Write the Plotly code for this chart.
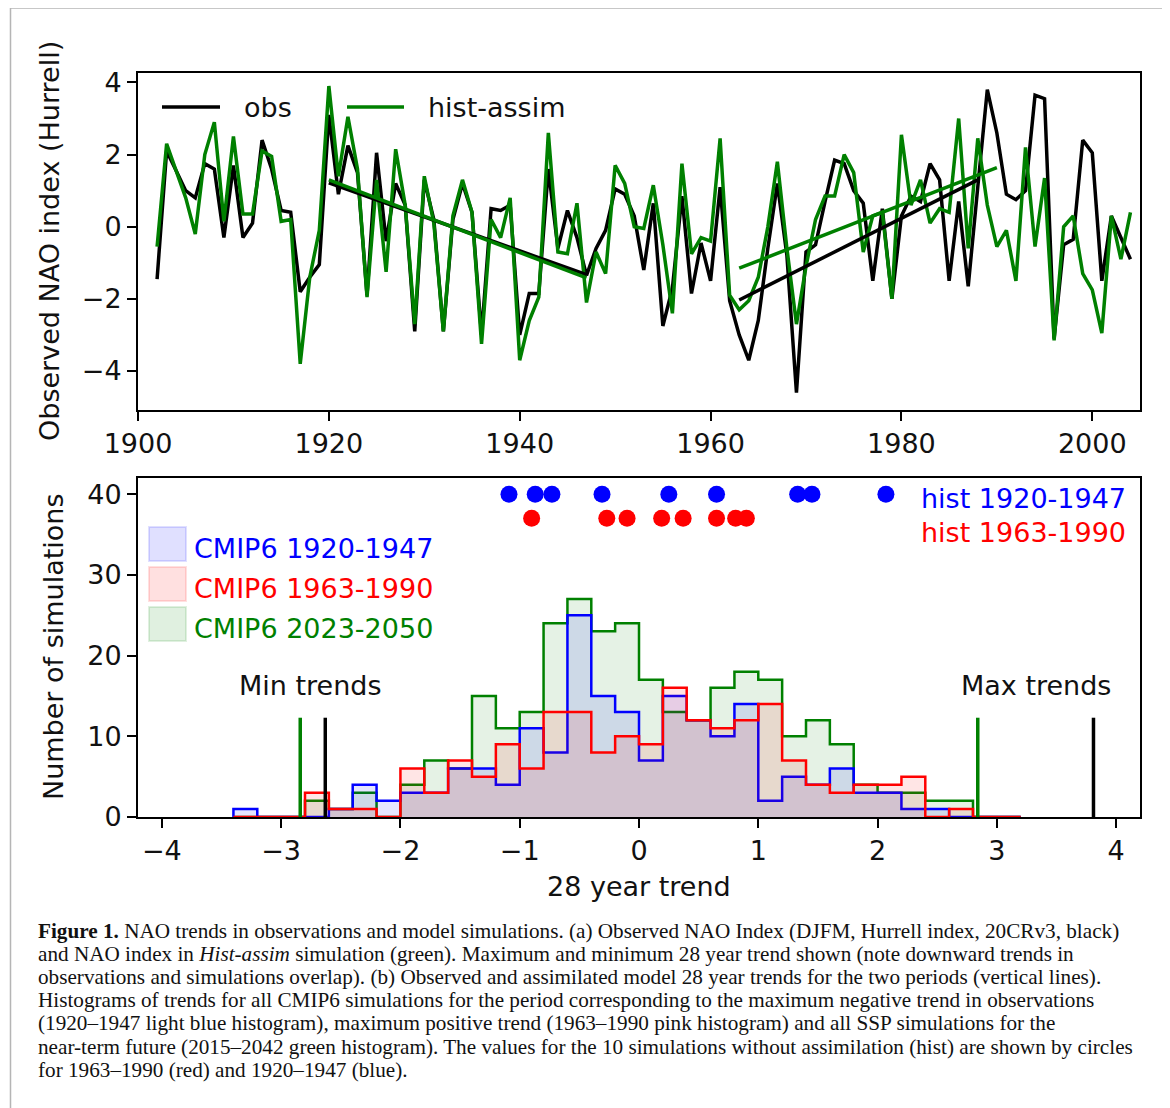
import plotly.graph_objects as go

# ---------------- data ----------------
years = [1902, 1903, 1904, 1905, 1906, 1907, 1908, 1909, 1910, 1911,
         1912, 1913, 1914, 1915, 1916, 1917, 1918, 1919, 1920, 1921,
         1922, 1923, 1924, 1925, 1926, 1927, 1928, 1929, 1930, 1931,
         1932, 1933, 1934, 1935, 1936, 1937, 1938, 1939, 1940, 1941,
         1942, 1943, 1944, 1945, 1946, 1947, 1948, 1949, 1950, 1951,
         1952, 1953, 1954, 1955, 1956, 1957, 1958, 1959, 1960, 1961,
         1962, 1963, 1964, 1965, 1966, 1967, 1968, 1969, 1970, 1971,
         1972, 1973, 1974, 1975, 1976, 1977, 1978, 1979, 1980, 1981,
         1982, 1983, 1984, 1985, 1986, 1987, 1988, 1989, 1990, 1991,
         1992, 1993, 1994, 1995, 1996, 1997, 1998, 1999, 2000, 2001,
         2002, 2003, 2004]

obs_nao = [-1.45, 2.1, 1.55, 1.0, 0.8, 1.75, 1.6, -0.3, 1.7, -0.3,
           0.1, 2.4, 1.6, 0.45, 0.4, -1.8, -1.4, -1.05, 3.1, 0.9,
           2.25, 1.5, -1.9, 2.05, -0.4, 1.2, 0.6, -2.9, 1.3, 0.2,
           -2.9, 0.2, 1.2, 0.4, -3.0, 0.5, 0.45, 0.6, -3.0, -1.85,
           -1.85, 1.6, -0.6, 0.45, -0.3, -1.35, -0.6, -0.1, 1.05, 0.9,
           0.3, -1.2, 0.65, -2.75, -1.7, 0.85, -1.85, -0.45, -1.5, 1.1,
           -2.05, -3.0, -3.7, -2.6, -0.6, 1.2, -0.8, -4.6, -0.7, -0.5,
           0.7, 1.85, 1.75, 1.0, 0.65, -1.5, 0.5, -2.0, 0.3, 0.85,
           0.7, 1.75, 1.3, -1.5, 0.7, -1.65, 1.1, 3.8, 2.6, 0.9,
           0.75, 1.0, 3.65, 3.55, -3.1, -0.5, -0.35, 2.4, 2.05, -1.5,
           0.3, -0.3, -0.9]

assim_nao = [-0.55, 2.3, 1.55, 0.8, -0.2, 2.0, 2.9, 0.15, 2.5, 0.35,
             0.35, 2.1, 1.95, 0.15, 0.2, -3.8, -1.4, -0.1, 3.9, 1.4,
             3.05, 1.6, -1.95, 1.3, -1.25, 2.15, 0.6, -2.7, 1.4, 0.1,
             -2.9, 0.3, 1.3, 0.4, -3.25, 0.2, -0.3, 0.8, -3.7, -2.6,
             -1.95, 2.6, -0.7, -0.75, 0.65, -2.1, -0.7, -1.3, 1.7, 1.2,
             0.0, -0.05, 1.15, -0.5, -2.4, 1.75, -0.75, -0.3, -0.4, 2.45,
             -1.9, -2.3, -2.05, -1.4, 0.0, 1.8, -0.6, -2.7, -1.1, 0.2,
             0.85, 0.85, 2.0, 1.5, -0.7, 0.3, 0.4, -2.0, 2.55, 0.6,
             1.3, 0.1, 0.5, 0.4, 3.0, -0.6, 2.45, 0.6, -0.55, -0.1,
             -1.5, 2.2, -0.55, 1.35, -3.15, 0.0, 0.3, -1.3, -1.75, -2.95,
             0.3, -0.9, 0.4]

# fitted 28-year trend segments (end points)
obs_trend1_years = [1920, 1947]
obs_trend1_vals = [1.22, -1.33]
assim_trend1_years = [1920, 1947]
assim_trend1_vals = [1.30, -1.42]
obs_trend2_years = [1963, 1988]
obs_trend2_vals = [-2.03, 1.30]
assim_trend2_years = [1963, 1990]
assim_trend2_vals = [-1.15, 1.64]

top_xticks = [1900, 1920, 1940, 1960, 1980, 2000]
top_yticks = [-4, -2, 0, 2, 4]
top_yticktext = ["\u22124", "\u22122", "0", "2", "4"]

# histogram bins (width 0.2)
bin_edges = [-3.4, -3.2, -3.0, -2.8, -2.6, -2.4, -2.2, -2.0, -1.8, -1.6,
             -1.4, -1.2, -1.0, -0.8, -0.6, -0.4, -0.2, 0.0, 0.2, 0.4,
             0.6, 0.8, 1.0, 1.2, 1.4, 1.6, 1.8, 2.0, 2.2, 2.4,
             2.6, 2.8, 3.0, 3.2]
counts_1920_1947 = [1, 0, 0, 0, 1, 4, 2, 3, 3, 6, 6, 4, 11, 8, 25, 15, 13,
                    7, 15, 12, 10, 14, 2, 5, 4, 6, 3, 3, 1, 1, 0, 0, 0]
counts_1963_1990 = [0, 0, 0, 3, 1, 1, 0, 6, 3, 7, 5, 9, 6, 13, 13, 8, 10,
                    9, 16, 12, 11, 12, 14, 7, 4, 3, 4, 4, 5, 0, 1, 0, 0]
counts_2023_2050 = [0, 0, 0, 2, 1, 3, 0, 4, 7, 6, 15, 11, 13, 24, 27, 23, 24,
                    17, 13, 12, 16, 18, 17, 10, 12, 9, 4, 3, 3, 2, 2, 0, 0]

# hist (no assimilation) simulation trends
hist_1920_1947 = [-1.09, -0.87, -0.73, -0.31, 0.25, 0.65, 1.33, 1.45, 2.07]
hist_1920_1947_y = [40, 40, 40, 40, 40, 40, 40, 40, 40]
hist_1963_1990 = [-0.90, -0.27, -0.10, 0.19, 0.37, 0.65, 0.81, 0.90]
hist_1963_1990_y = [37, 37, 37, 37, 37, 37, 37, 37]

# observed / assimilated min & max trends
min_trend_obs = -2.63
min_trend_assim = -2.84
max_trend_obs = 3.81
max_trend_assim = 2.84
trend_line_y = [0, 12.3]

bot_xticks = [-4, -3, -2, -1, 0, 1, 2, 3, 4]
bot_xticktext = ["\u22124", "\u22123", "\u22122", "\u22121", "0", "1", "2", "3", "4"]
bot_yticks = [0, 10, 20, 30, 40]

caption_lines = [
    "<b>Figure 1.</b> NAO trends in observations and model simulations. (a) Observed NAO Index (DJFM, Hurrell index, 20CRv3, black)",
    "and NAO index in <i>Hist-assim</i> simulation (green). Maximum and minimum 28 year trend shown (note downward trends in",
    "observations and simulations overlap). (b) Observed and assimilated model 28 year trends for the two periods (vertical lines).",
    "Histograms of trends for all CMIP6 simulations for the period corresponding to the maximum negative trend in observations",
    "(1920\u20131947 light blue histogram), maximum positive trend (1963\u20131990 pink histogram) and all SSP simulations for the",
    "near-term future (2015\u20132042 green histogram). The values for the 10 simulations without assimilation (hist) are shown by circles",
    "for 1963\u20131990 (red) and 1920\u20131947 (blue).",
]

# ---------------- geometry helpers ----------------
W, H = 1170, 1108
OFF = 8  # page (body) margin of the html page


def fx(px):
    return (px - OFF) / W


def fy(py):
    return 1 - (py - OFF) / H


FONT = "DejaVu Sans"
FS = 27
TXT = "#111111"
GREEN = "#008000"

fig = go.Figure()

# ---------------- top panel ----------------
fig.add_trace(go.Scatter(x=years, y=obs_nao, mode="lines",
                         line=dict(color="black", width=3.5),
                         xaxis="x", yaxis="y", showlegend=False))
fig.add_trace(go.Scatter(x=years, y=assim_nao, mode="lines",
                         line=dict(color=GREEN, width=3.5),
                         xaxis="x", yaxis="y", showlegend=False))
for xs, ys, col in [(obs_trend1_years, obs_trend1_vals, "black"),
                    (assim_trend1_years, assim_trend1_vals, GREEN),
                    (obs_trend2_years, obs_trend2_vals, "black"),
                    (assim_trend2_years, assim_trend2_vals, GREEN)]:
    fig.add_trace(go.Scatter(x=xs, y=ys, mode="lines",
                             line=dict(color=col, width=3.5),
                             xaxis="x", yaxis="y", showlegend=False))


# ---------------- bottom panel ----------------
def step_xy(edges, counts):
    xs = [edges[0]] + edges[:-1] + [edges[-1]]
    ys = [0] + counts + [0]
    return xs, ys


hists = [
    (counts_2023_2050, GREEN, "rgba(0,128,0,0.10)"),
    (counts_1920_1947, "blue", "rgba(0,0,255,0.10)"),
    (counts_1963_1990, "red", "rgba(255,0,0,0.10)"),
]
for cnt, col, fcol in hists:
    hx, hy = step_xy(bin_edges, cnt)
    fig.add_trace(go.Scatter(x=hx, y=hy, mode="lines", line_shape="hv",
                             line=dict(color=col, width=2.5),
                             fill="tozeroy", fillcolor=fcol,
                             xaxis="x2", yaxis="y2", showlegend=False))

for xv, col in [(min_trend_assim, GREEN), (min_trend_obs, "black"),
                (max_trend_assim, GREEN), (max_trend_obs, "black")]:
    fig.add_trace(go.Scatter(x=[xv, xv], y=trend_line_y, mode="lines",
                             line=dict(color=col, width=3.5),
                             xaxis="x2", yaxis="y2", showlegend=False))

fig.add_trace(go.Scatter(x=hist_1920_1947, y=hist_1920_1947_y, mode="markers",
                         marker=dict(color="blue", size=17, line=dict(width=0)),
                         xaxis="x2", yaxis="y2", showlegend=False, cliponaxis=False))
fig.add_trace(go.Scatter(x=hist_1963_1990, y=hist_1963_1990_y, mode="markers",
                         marker=dict(color="red", size=17, line=dict(width=0)),
                         xaxis="x2", yaxis="y2", showlegend=False, cliponaxis=False))

# ---------------- axes ----------------
axis_common = dict(showline=True, linecolor="black", linewidth=2, mirror=True,
                   ticks="outside", ticklen=9, tickwidth=2, tickcolor="black",
                   showgrid=False, zeroline=False, automargin=False,
                   tickfont=dict(family=FONT, size=FS, color=TXT))

xdom = [fx(138), fx(1140)]
fig.update_layout(
    template="none",
    width=W, height=H, autosize=False,
    margin=dict(l=0, r=0, t=0, b=0, pad=0),
    paper_bgcolor="white", plot_bgcolor="white",
    font=dict(family=FONT, size=FS, color=TXT),
    showlegend=False,
    xaxis=dict(domain=xdom, range=[1900, 2005], anchor="y",
               tickmode="array", tickvals=top_xticks, **axis_common),
    yaxis=dict(domain=[fy(410), fy(72.7)], range=[-5.08, 4.27], anchor="x",
               tickmode="array", tickvals=top_yticks, ticktext=top_yticktext,
               **axis_common),
    xaxis2=dict(domain=xdom, range=[-4.2, 4.2], anchor="y2",
                tickmode="array", tickvals=bot_xticks, ticktext=bot_xticktext,
                **axis_common),
    yaxis2=dict(domain=[fy(817), fy(478)], range=[0, 42], anchor="x2",
                tickmode="array", tickvals=bot_yticks, **axis_common),
)

annotations = []
shapes = []

# axis titles
annotations.append(dict(text="Observed NAO index (Hurrell)", x=fx(49), y=fy(241),
                        xref="paper", yref="paper", textangle=-90, showarrow=False,
                        xanchor="center", yanchor="middle",
                        font=dict(family=FONT, size=FS, color=TXT)))
annotations.append(dict(text="Number of simulations", x=fx(53), y=fy(647),
                        xref="paper", yref="paper", textangle=-90, showarrow=False,
                        xanchor="center", yanchor="middle",
                        font=dict(family=FONT, size=FS, color=TXT)))
annotations.append(dict(text="28 year trend", x=fx(639), y=fy(886),
                        xref="paper", yref="paper", showarrow=False,
                        xanchor="center", yanchor="middle",
                        font=dict(family=FONT, size=FS, color=TXT)))

# top legend
shapes.append(dict(type="line", xref="paper", yref="paper",
                   x0=fx(162), x1=fx(220), y0=fy(107), y1=fy(107),
                   line=dict(color="black", width=3.5)))
annotations.append(dict(text="obs", x=fx(242), y=fy(107), xref="paper", yref="paper",
                        showarrow=False, xanchor="left", yanchor="middle",
                        font=dict(family=FONT, size=FS, color=TXT)))
shapes.append(dict(type="line", xref="paper", yref="paper",
                   x0=fx(347), x1=fx(404), y0=fy(107), y1=fy(107),
                   line=dict(color=GREEN, width=3.5)))
annotations.append(dict(text="hist-assim", x=fx(426), y=fy(107), xref="paper", yref="paper",
                        showarrow=False, xanchor="left", yanchor="middle",
                        font=dict(family=FONT, size=FS, color=TXT)))

# bottom legend (patches)
leg_items = [("CMIP6 1920-1947", "blue", "rgba(0,0,255,0.12)", 527, 561, 548),
             ("CMIP6 1963-1990", "red", "rgba(255,0,0,0.12)", 567, 601, 588),
             ("CMIP6 2023-2050", GREEN, "rgba(0,128,0,0.12)", 607, 641, 628)]
for label, col, fcol, y0, y1, yc in leg_items:
    shapes.append(dict(type="rect", xref="paper", yref="paper",
                       x0=fx(149), x1=fx(186), y0=fy(y1), y1=fy(y0),
                       fillcolor=fcol, line=dict(color=fcol, width=2)))
    annotations.append(dict(text=label, x=fx(192), y=fy(yc), xref="paper", yref="paper",
                            showarrow=False, xanchor="left", yanchor="middle",
                            font=dict(family=FONT, size=FS, color=col)))

# hist labels (top right of lower panel)
annotations.append(dict(text="hist 1920-1947", x=4.10, y=39.4, xref="x2", yref="y2",
                        showarrow=False, xanchor="right", yanchor="middle",
                        font=dict(family=FONT, size=FS, color="blue")))
annotations.append(dict(text="hist 1963-1990", x=4.10, y=35.3, xref="x2", yref="y2",
                        showarrow=False, xanchor="right", yanchor="middle",
                        font=dict(family=FONT, size=FS, color="red")))
annotations.append(dict(text="Min trends", x=-2.75, y=16.3, xref="x2", yref="y2",
                        showarrow=False, xanchor="center", yanchor="middle",
                        font=dict(family=FONT, size=FS, color=TXT)))
annotations.append(dict(text="Max trends", x=3.33, y=16.3, xref="x2", yref="y2",
                        showarrow=False, xanchor="center", yanchor="middle",
                        font=dict(family=FONT, size=FS, color=TXT)))

# caption
for i, line in enumerate(caption_lines):
    annotations.append(dict(text=line, x=fx(36), y=fy(931 + 23.1 * i),
                            xref="paper", yref="paper", showarrow=False,
                            xanchor="left", yanchor="middle", align="left",
                            font=dict(family="Liberation Serif", size=21.2, color="#111111")))

# outer frame
shapes.append(dict(type="rect", xref="paper", yref="paper",
                   x0=fx(10.5), x1=fx(1166), y0=-0.05, y1=fy(8),
                   line=dict(color="#b5b5b5", width=1.5), fillcolor="rgba(0,0,0,0)",
                   layer="below"))

fig.update_layout(annotations=annotations, shapes=shapes)
fig.write_html("out.html")
